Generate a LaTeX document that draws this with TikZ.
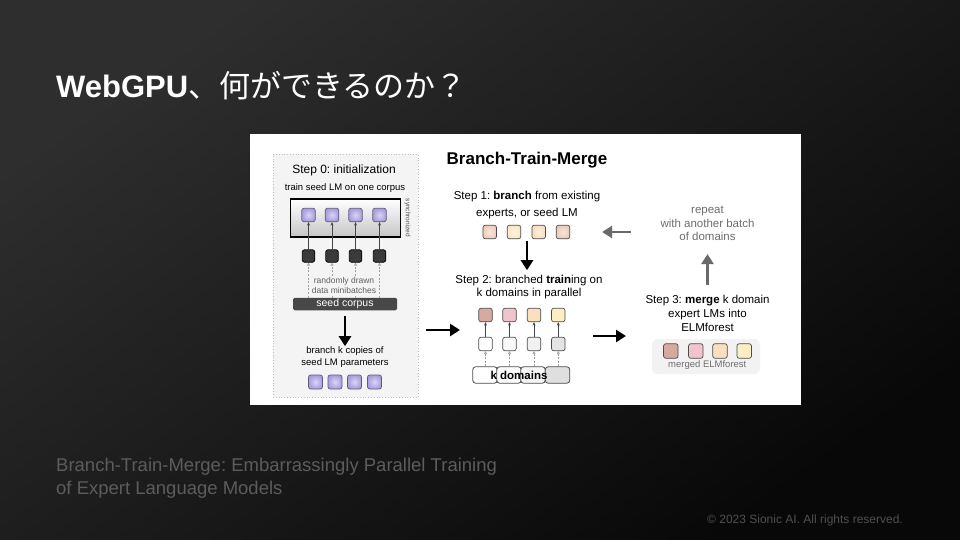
\documentclass[tikz,border=0pt]{standalone}
\usepackage{fontspec}
\setmainfont{Liberation Sans}
\newfontfamily\jpfont{Noto Sans CJK JP}
\usetikzlibrary{arrows.meta, positioning, calc}

\definecolor{bgtop}{RGB}{46,46,46}
\definecolor{bgbot}{RGB}{8,8,8}
\definecolor{boxgray}{RGB}{244,244,244}
\definecolor{lavin}{RGB}{218,212,248}
\definecolor{lavout}{RGB}{168,158,218}
\definecolor{lavedge}{RGB}{95,88,130}
\definecolor{darkcell}{RGB}{58,58,58}
\definecolor{corpusgray}{RGB}{72,72,72}
\definecolor{arrgray}{RGB}{105,105,105}
\definecolor{txtgray}{RGB}{110,110,110}
\definecolor{citegray}{RGB}{92,92,92}
\definecolor{copygray}{RGB}{80,80,80}
\definecolor{peachA}{RGB}{238,204,184}
\definecolor{peachB}{RGB}{250,230,196}
\definecolor{peachC}{RGB}{246,222,190}
\definecolor{peachD}{RGB}{236,202,182}
\definecolor{roseA}{RGB}{214,170,160}
\definecolor{roseB}{RGB}{241,196,205}
\definecolor{roseC}{RGB}{249,224,190}
\definecolor{roseD}{RGB}{252,238,194}

\tikzset{
  cell/.style={draw=gray!60!black, line width=0.7pt, rounded corners=2.2pt,
    minimum size=13.5pt, inner sep=0pt},
  lavcell/.style={cell, draw=lavedge, inner color=lavin, outer color=lavout},
  thinarr/.style={draw=gray!55!black, line width=0.6pt, -{Stealth[length=3.5pt, width=3pt]}},
  dasharr/.style={draw=gray!75, line width=0.6pt, dash pattern=on 2pt off 1.6pt,
    -{Triangle[open, length=3pt, width=3pt]}},
  bigarr/.style={line width=2.8pt, -{Triangle[length=10pt, width=12pt]}},
  greyarr/.style={bigarr, draw=arrgray},
  steptext/.style={font=\fontsize{11.5}{13.8}\selectfont, align=center},
}

\begin{document}
\frenchspacing
\begin{tikzpicture}[x=1pt, y=-1pt]
  \useasboundingbox (0,0) rectangle (960,540);
  % Slide background
  \shade[top color=bgtop, bottom color=bgbot, shading angle=35] (0,0) rectangle (960,540);

  % Title
  \node[anchor=base west, text=white, inner sep=0] (title) at (56,97.5)
    {\fontsize{31}{36}\selectfont\textbf{WebGPU}{\jpfont 、何ができるのか？}};

  % Figure panel
  \fill[white] (250,134) rectangle (801,405);

  % Step 0 box
  \node[draw=gray!50, dotted, line width=0.8pt, fill=boxgray, minimum width=145,
    minimum height=243, inner sep=0] (initbox) at (345.5,275.5) {};
  \node[font=\fontsize{12}{14}\selectfont] (s0head) at (344,170) {Step 0: initialization};
  \node[font=\fontsize{9.5}{11}\selectfont] (s0sub) at (345,188) {train seed LM on one corpus};
  \node[draw, line width=1.6pt, top color=white, bottom color=gray!45, minimum width=110,
    minimum height=38, inner sep=0] (sync) at (345.5,218) {};
  \node[rotate=-90, font=\fontsize{6.5}{7}\selectfont, text=gray!60!black, inner sep=0]
    (synclab) at (407.5,218) {synchronized};
  \node[fill=corpusgray, rounded corners=1.5pt, minimum width=104, minimum height=12.5,
    inner sep=0, text=white, font=\fontsize{10.5}{12}\selectfont] (corpus) at (345,304) {seed corpus};

  % Columns of the seed LM
  \foreach \i/\x in {1/308.5, 2/332, 3/355.5, 4/379.5} {
    \node[lavcell] (sp\i) at (\x,215) {};
    \node[cell, minimum size=12.5, fill=darkcell, draw=black] (sd\i) at (\x,256) {};
    \draw[thinarr] (sd\i) -- (sp\i);
    \draw[dasharr] (corpus.north -| sd\i) -- (sd\i.south);
  }
  \node[fill=boxgray, inner sep=1pt, align=center, text=gray!75!black,
    font=\fontsize{8.5}{10}\selectfont] (minib) at (344,285) {randomly drawn\\data minibatches};

  % Branch into copies
  \node[font=\fontsize{9.5}{11.7}\selectfont, align=center] (bcopy) at (345,357)
    {branch k copies of\\seed LM parameters};
  \draw[bigarr] ([yshift=-6]corpus.south) -- ([yshift=-3]bcopy.north);
  \foreach \i/\x in {1/315.5, 2/335, 3/354.5, 4/374.5}
    \node[lavcell, minimum size=14] (cp\i) at (\x,382) {};

  % Branch-Train-Merge
  \node[font=\fontsize{17}{20}\selectfont\bfseries] (btm) at (527,160) {Branch-Train-Merge};

  % Step 1
  \node[steptext, font=\fontsize{11.5}{16.5}\selectfont] (s1txt) at (527,205)
    {Step 1: \textbf{branch} from existing\\experts, or seed LM};
  \foreach \i/\x/\c in {1/489.7/peachA, 2/514/peachB, 3/538.7/peachC, 4/563/peachD}
    \node[cell, inner color=\c!45!white, outer color=\c] (s1c\i) at (\x,232) {};

  % Step 2
  \node[steptext] (s2txt) at (529,287) {Step 2: branched \textbf{train}ing on\\k domains in parallel};
  \coordinate (s1out) at (527,241);
  \draw[bigarr] (s1out) -- ($(s1out |- s2txt.north)+(0,-1)$);
  \foreach \i/\x/\t/\b in {1/485.5/roseA/white, 2/509.5/roseB/gray!5,
      3/534/roseC/gray!11, 4/558.3/roseD/gray!22} {
    \node[cell, fill=\t] (s2t\i) at (\x,315) {};
    \node[cell, fill=\b] (s2b\i) at (\x,344) {};
    \draw[thinarr] (s2b\i) -- (s2t\i);
  }

  % k domains bar
  \foreach \i/\x/\c in {1/485/white, 2/509/gray!3, 3/533/gray!7, 4/557.5/gray!25}
    \node[draw=gray!60!black, line width=0.8pt, rounded corners=3pt, fill=\c,
      minimum width=24.5, minimum height=16.5, inner sep=0] (dseg\i) at (\x,375) {};
  \node[font=\fontsize{11.5}{14}\selectfont\bfseries] (domlab) at (519,375) {k domains};
  \foreach \i in {1,...,4}
    \draw[dasharr] (dseg\i.north -| s2b\i) -- (s2b\i.south);

  % Flow arrows
  \coordinate (a0s) at (426,330);
  \coordinate (a0e) at (460,330);
  \draw[bigarr] (a0s) -- (a0e);
  \coordinate (a2s) at (593,336);
  \coordinate (a2e) at (626,336);
  \draw[bigarr] (a2s) -- (a2e);

  % Step 3
  \node[steptext] (s3txt) at (707.5,313.5) {Step 3: \textbf{merge} k domain\\expert LMs into\\ELMforest};
  \node[fill=gray!10, rounded corners=6pt, minimum width=108, minimum height=35,
    inner sep=0] (mbox) at (706,356.5) {};
  \foreach \i/\x/\c in {1/670.8/roseA, 2/695.8/roseB, 3/720/roseC, 4/744.2/roseD}
    \node[cell, minimum size=14.5, fill=\c] (mc\i) at (\x,351) {};
  \node[font=\fontsize{9.5}{11}\selectfont, text=txtgray, inner sep=0] (mlab) at (707.3,365.5)
    {merged ELMforest};

  % Repeat loop
  \node[steptext, text=txtgray] (rep) at (707.5,223.5) {repeat\\with another batch\\of domains};
  \draw[greyarr] ([yshift=7]s3txt.north) -- ([yshift=-9.5]rep.south);
  \coordinate (r1s) at (631,232);
  \draw[greyarr] (r1s) -- ([xshift=32]s1c4.east);

  % Citation and footer
  \node[anchor=base west, text=citegray, font=\fontsize{18.5}{22}\selectfont, inner sep=0]
    (cite1) at (56,471.5) {Branch-Train-Merge: Embarrassingly Parallel Training};
  \node[anchor=base west, text=citegray, font=\fontsize{18.5}{22}\selectfont, inner sep=0]
    (cite2) at (56,494) {of Expert Language Models};
  \node[anchor=base east, text=copygray, font=\fontsize{12}{14}\selectfont, inner sep=0]
    (copy) at (903,523) {© 2023 Sionic AI. All rights reserved.};
\end{tikzpicture}
\end{document}
